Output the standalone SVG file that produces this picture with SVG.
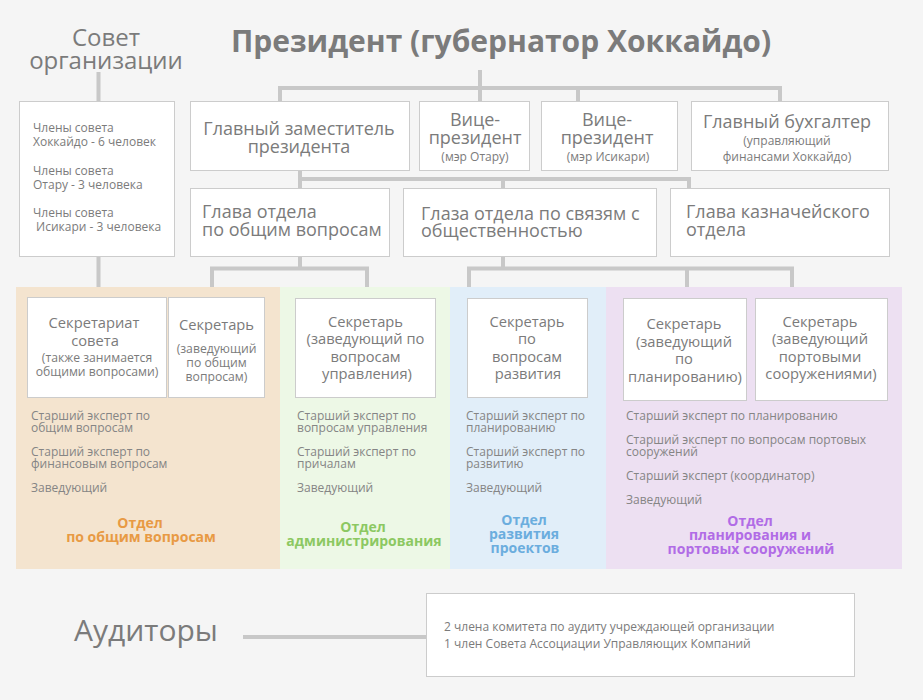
<svg xmlns="http://www.w3.org/2000/svg" width="923" height="700" viewBox="0 0 923 700">
<style>
text{font-family:"Open Sans","Noto Sans","DejaVu Sans",sans-serif;fill:#7b7b7b}
.box{fill:#fff;stroke:#cccccc;stroke-width:1}
.ln{stroke:#c8c8c8;stroke-width:4;fill:none}
.b{font-size:18px}
.m{font-size:14.7px;text-anchor:middle}
.s{font-size:12.2px}
.xs{font-size:12px}
.c{text-anchor:middle}
.e{font-size:12px;fill:#858585}
.d{font-size:14px;font-weight:bold;text-anchor:middle}
</style>
<rect width="923" height="700" fill="#f5f5f5"/>

<g id="panels">
<rect x="16" y="287" width="264" height="282" fill="#f4e4cf"/>
<rect x="280" y="287" width="170" height="282" fill="#edf8e6"/>
<rect x="450" y="287" width="156" height="282" fill="#e1eef9"/>
<rect x="606" y="287" width="296" height="282" fill="#ede0f2"/>
</g>

<g id="connectors">
<path class="ln" d="M480,70 V101 M278,88 H782 M280,88 V101 M578,88 V101 M780,88 V101"/>
<path class="ln" d="M98.5,72 V101 M98.5,256 V287"/>
<path class="ln" d="M300,170 V188 M298,179 H691 M503,179 V188 M689,179 V188"/>
<path class="ln" d="M300,256 V268.5 M210,268.5 H369 M212,268.5 V287 M367,268.5 V287"/>
<path class="ln" d="M503,256 V268.5 M467,268.5 H794 M469,268.5 V287 M687,268.5 V287 M792,268.5 V287"/>
<path class="ln" d="M243,637 H427"/>
</g>

<g id="president">
<text x="501" y="52" class="c" font-size="30" font-weight="bold" fill="#777">Президент (губернатор Хоккайдо)</text>
</g>

<g id="council-title">
<text x="106" y="46" class="c" font-size="24">Совет</text>
<text x="106" y="69" class="c" font-size="24">организации</text>
</g>

<g id="council">
<rect class="box" x="19.5" y="101.5" width="155" height="155"/>
<text class="xs" x="33" y="132">Члены совета</text>
<text class="xs" x="33" y="146">Хоккайдо - 6 человек</text>
<text class="xs" x="33" y="175">Члены совета</text>
<text class="xs" x="33" y="189">Отару - 3 человека</text>
<text class="xs" x="33" y="217">Члены совета</text>
<text class="xs" x="33" y="231" xml:space="preserve"> Исикари - 3 человека</text>
</g>

<g id="main-deputy">
<rect class="box" x="190.5" y="101.5" width="219" height="69"/>
<text class="b c" x="299" y="135">Главный заместитель</text>
<text class="b c" x="299" y="153">президента</text>
</g>

<g id="vp-otaru">
<rect class="box" x="419.5" y="101.5" width="110" height="69"/>
<text class="b c" x="475" y="126" font-size="17.5">Вице-</text>
<text class="b c" x="475" y="144" font-size="17.5">президент</text>
<text class="xs c" x="475" y="161">(мэр Отару)</text>
</g>

<g id="vp-ishikari">
<rect class="box" x="541.5" y="101.5" width="136" height="69"/>
<text class="b c" x="607" y="126" font-size="17.5">Вице-</text>
<text class="b c" x="607" y="144" font-size="17.5">президент</text>
<text class="xs c" x="608" y="161">(мэр Исикари)</text>
</g>

<g id="accountant">
<rect class="box" x="691.5" y="101.5" width="197" height="69"/>
<text class="b c" x="787" y="128">Главный бухгалтер</text>
<text class="xs c" x="787" y="145">(управляющий</text>
<text class="xs c" x="787" y="161">финансами Хоккайдо)</text>
</g>

<g id="head-general">
<rect class="box" x="190.5" y="188.5" width="199" height="68"/>
<text class="b" x="202" y="218">Глава отдела</text>
<text class="b" x="202" y="236">по общим вопросам</text>
</g>

<g id="head-pr">
<rect class="box" x="403.5" y="188.5" width="253" height="68"/>
<text class="b" x="421" y="220">Глаза отдела по связям с</text>
<text class="b" x="421" y="237">общественностью</text>
</g>

<g id="head-treasury">
<rect class="box" x="670.5" y="188.5" width="219" height="68"/>
<text class="b" x="686" y="218">Глава казначейского</text>
<text class="b" x="686" y="236">отдела</text>
</g>

<g id="dept-general">
<rect class="box" x="27.5" y="297.5" width="139" height="100"/>
<text class="m" x="94" y="328" font-size="16">Секретариат</text>
<text class="m" x="95" y="346" font-size="16">совета</text>
<text class="s c" x="97" y="362">(также занимается</text>
<text class="s c" x="97" y="376">общими вопросами)</text>
<rect class="box" x="168.5" y="297.5" width="96" height="100"/>
<text class="m" x="216.5" y="330" font-size="13.6">Секретарь</text>
<text class="s c" x="216.5" y="353">(заведующий</text>
<text class="s c" x="216.5" y="367">по общим</text>
<text class="s c" x="216.5" y="381">вопросам)</text>
<text class="e" x="31" y="420">Старший эксперт по</text>
<text class="e" x="31" y="432">общим вопросам</text>
<text class="e" x="31" y="456">Старший эксперт по</text>
<text class="e" x="31" y="468">финансовым вопросам</text>
<text class="e" x="31" y="492">Заведующий</text>
<text class="d" x="140" y="528" style="fill:#e89a44">Отдел</text>
<text class="d" x="141" y="542" style="fill:#e89a44">по общим вопросам</text>
</g>

<g id="dept-admin">
<rect class="box" x="295.5" y="298.5" width="140" height="99"/>
<text class="m" x="365.5" y="327">Секретарь</text>
<text class="m" x="365.5" y="344">(заведующий по</text>
<text class="m" x="365.5" y="362">вопросам</text>
<text class="m" x="367" y="379">управления)</text>
<text class="e" x="297" y="420">Старший эксперт по</text>
<text class="e" x="297" y="432">вопросам управления</text>
<text class="e" x="297" y="456">Старший эксперт по</text>
<text class="e" x="297" y="468">причалам</text>
<text class="e" x="297" y="492">Заведующий</text>
<text class="d" x="363" y="532" style="fill:#8cc862">Отдел</text>
<text class="d" x="364" y="546" style="fill:#8cc862">администрирования</text>
</g>

<g id="dept-development">
<rect class="box" x="467.5" y="298.5" width="120" height="99"/>
<text class="m" x="527" y="327">Секретарь</text>
<text class="m" x="527" y="344">по</text>
<text class="m" x="527" y="362">вопросам</text>
<text class="m" x="528" y="379">развития</text>
<text class="e" x="466" y="420">Старший эксперт по</text>
<text class="e" x="466" y="432">планированию</text>
<text class="e" x="466" y="456">Старший эксперт по</text>
<text class="e" x="466" y="468">развитию</text>
<text class="e" x="466" y="492">Заведующий</text>
<text class="d" x="524" y="525" style="fill:#6badde">Отдел</text>
<text class="d" x="524" y="539" style="fill:#6badde">развития</text>
<text class="d" x="525" y="553" style="fill:#6badde">проектов</text>
</g>

<g id="dept-planning">
<rect class="box" x="623.5" y="298.5" width="123" height="102"/>
<text class="m" x="684" y="329">Секретарь</text>
<text class="m" x="684" y="347">(заведующий</text>
<text class="m" x="684" y="364">по</text>
<text class="m" x="685" y="382">планированию)</text>
<rect class="box" x="755.5" y="298.5" width="132" height="102"/>
<text class="m" x="820" y="327">Секретарь</text>
<text class="m" x="820" y="344">(заведующий</text>
<text class="m" x="820" y="362">портовыми</text>
<text class="m" x="821" y="379">сооружениями)</text>
<text class="e" x="626" y="420">Старший эксперт по планированию</text>
<text class="e" x="626" y="444">Старший эксперт по вопросам портовых</text>
<text class="e" x="626" y="456">сооружений</text>
<text class="e" x="626" y="480">Старший эксперт (координатор)</text>
<text class="e" x="626" y="504">Заведующий</text>
<text class="d" x="750" y="526" style="fill:#b16ce6">Отдел</text>
<text class="d" x="750" y="540" style="fill:#b16ce6">планирования и</text>
<text class="d" x="751" y="554" style="fill:#b16ce6">портовых сооружений</text>
</g>

<g id="auditors-title">
<text x="74" y="641" font-size="30">Аудиторы</text>
</g>

<g id="auditors">
<rect class="box" x="426.5" y="593.5" width="428" height="83"/>
<text x="444" y="631" font-size="12">2 члена комитета по аудиту учреждающей организации</text>
<text x="444" y="648" font-size="12">1 член Совета Ассоциации Управляющих Компаний</text>
</g>
</svg>
